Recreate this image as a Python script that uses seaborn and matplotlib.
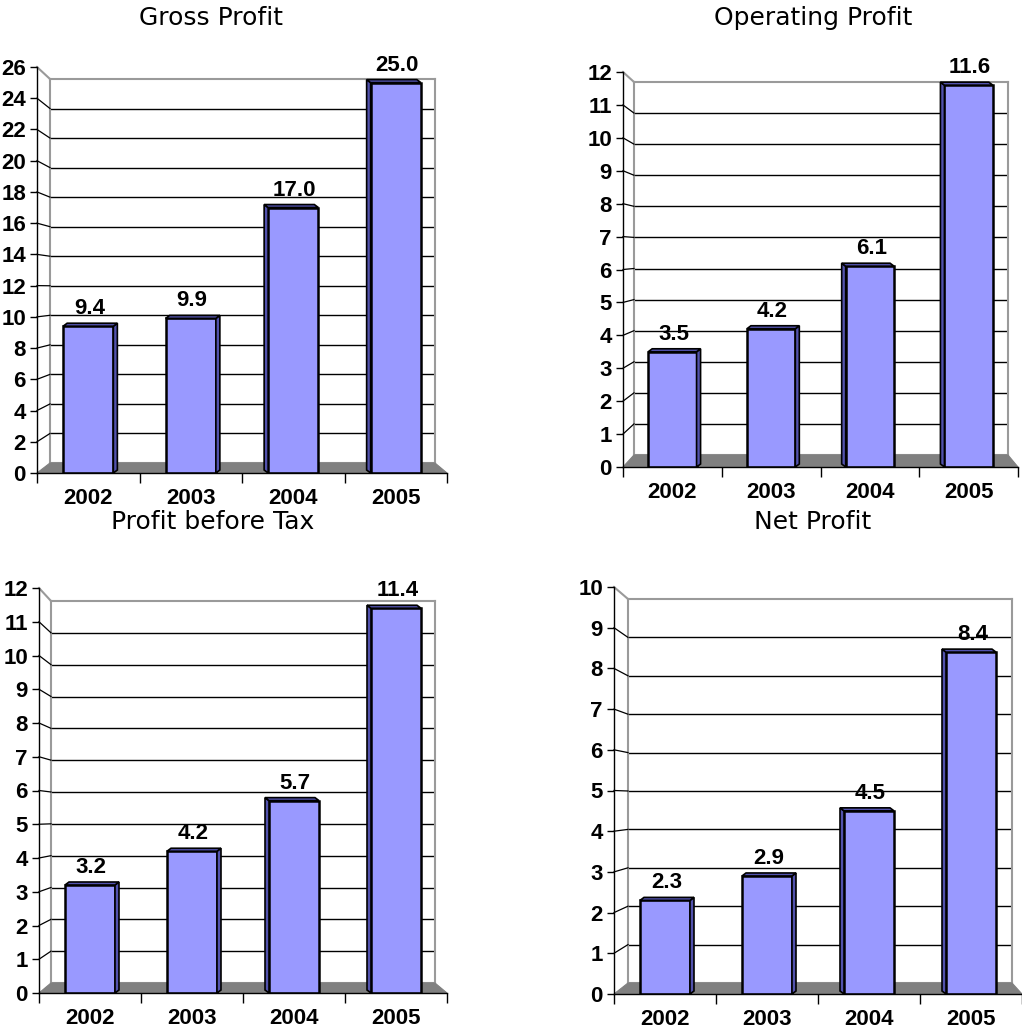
import matplotlib
matplotlib.use("Agg")
import matplotlib.pyplot as plt
from matplotlib.lines import Line2D
from matplotlib.patches import Polygon
from matplotlib.transforms import IdentityTransform
import seaborn as sns

## DATOS

years = ["2002", "2003", "2004", "2005"]
gross_profit = [9.4, 9.9, 17.0, 25.0]
operating_profit = [3.5, 4.2, 6.1, 11.6]
profit_before_tax = [3.2, 4.2, 5.7, 11.4]
net_profit = [2.3, 2.9, 4.5, 8.4]

titles = ["Gross Profit", "Operating Profit", "Profit before Tax", "Net Profit"]

W, H = 1022, 1035
BAR = "#9999FF"
SIDE = "#5252ad"
GREY = "#808080"
WALL_EDGE = "#9a9a9a"
FS = 16


def fig_xy(px, py):
    return px / W, 1 - py / H


def panel(fig, values, title, ymax, step, axis_box, wall_box, title_xy):
    '''
    Dibuja un panel tipo "Excel 3D": pared del fondo, suelo gris y barras.
    axis_box = (x0, x1, ytop, ybot) en píxeles, wall_box igual para la pared.
    '''
    x0, x1, yt, yb = axis_box
    wx0, wx1, wyt, wyb = wall_box
    ticks = list(range(0, ymax + 1, step))

    # pared del fondo con las líneas de rejilla
    wall = fig.add_axes([wx0 / W, 1 - wyb / H, (wx1 - wx0) / W, (wyb - wyt) / H])
    wall.set_zorder(0)
    wall.set_xlim(0, 1)
    wall.set_ylim(0, ymax)
    wall.set_xticks([])
    wall.set_yticks([])
    for s in wall.spines.values():
        s.set_color(WALL_EDGE)
        s.set_linewidth(1.5)
    for v in ticks[1:-1]:
        wall.axhline(v, color="black", lw=1)

    # suelo gris
    floor = Polygon([fig_xy(x0, yb), fig_xy(x1, yb), fig_xy(wx1, wyb), fig_xy(wx0, wyb)],
                    closed=True, facecolor=GREY, edgecolor=GREY, lw=0.8,
                    transform=fig.transFigure, zorder=0.5)
    fig.add_artist(floor)

    # pared lateral izquierda y conectores de ticks
    fig.add_artist(Line2D(*zip(fig_xy(x0, yt), fig_xy(wx0, wyt)), color=WALL_EDGE, lw=1.5,
                          transform=fig.transFigure, zorder=0.6))
    for v in ticks[1:-1]:
        ay = yb - v / ymax * (yb - yt)
        wy = wyb - v / ymax * (wyb - wyt)
        fig.add_artist(Line2D(*zip(fig_xy(x0, ay), fig_xy(wx0, wy)), color="black", lw=0.9,
                              transform=fig.transFigure, zorder=0.6))

    # ejes principales con las barras
    ax = fig.add_axes([x0 / W, 1 - yb / H, (x1 - x0) / W, (yb - yt) / H])
    ax.set_zorder(1)
    ax.patch.set_visible(False)
    sns.barplot(x=years, y=values, ax=ax, color=BAR, edgecolor="black",
                linewidth=1.8, width=0.49, saturation=1)
    ax.set_xlim(-0.5, 3.5)
    ax.set_ylim(0, ymax)
    ax.set_yticks(ticks)
    ax.set_yticklabels([str(t) for t in ticks], fontweight="bold", fontsize=FS)
    ax.set_xticks(range(len(years)))
    ax.set_xticklabels(years, fontweight="bold", fontsize=FS)
    ax.set_xticks([i - 0.5 for i in range(len(years) + 1)], minor=True)
    ax.tick_params(axis="x", which="major", length=0, pad=11)
    ax.tick_params(axis="x", which="minor", length=7, width=1, direction="out")
    ax.tick_params(axis="y", length=5, width=1, direction="out", pad=3)
    ax.set_xlabel("")
    ax.set_ylabel("")
    for side in ["top", "right"]:
        ax.spines[side].set_visible(False)
    for side in ["left", "bottom"]:
        ax.spines[side].set_color("black")
        ax.spines[side].set_linewidth(1)

    # caras laterales y superiores (pseudo 3D)
    dx, dy = 4, 3
    for i, p in enumerate(ax.patches):
        bx0, by0 = ax.transData.transform((p.get_x(), 0))
        bx1, by1 = ax.transData.transform((p.get_x() + p.get_width(), p.get_height()))
        if i < 2:
            side = [(bx1, by0), (bx1, by1), (bx1 + dx, by1 + dy), (bx1 + dx, by0 + dy)]
            top = [(bx0, by1), (bx1, by1), (bx1 + dx, by1 + dy), (bx0 + dx, by1 + dy)]
        else:
            side = [(bx0, by0), (bx0, by1), (bx0 - dx, by1 + dy), (bx0 - dx, by0 + dy)]
            top = [(bx0, by1), (bx1, by1), (bx1 - dx, by1 + dy), (bx0 - dx, by1 + dy)]
        for pts in (side, top):
            ax.add_patch(Polygon(pts, closed=True, facecolor=SIDE, edgecolor="black",
                                 lw=1.2, transform=IdentityTransform(), zorder=1.5))
        ax.annotate(f"{values[i]:.1f}", (p.get_x() + p.get_width() / 2, p.get_height()),
                    xytext=(1, 5), textcoords="offset points", ha="center", va="bottom",
                    fontweight="bold", fontsize=FS, zorder=3)

    fig.text(*fig_xy(*title_xy), title, ha="center", va="center",
             fontsize=18, family=["DejaVu Sans"])


plt.rcParams["font.family"] = ["Liberation Sans", "DejaVu Sans"]
fig = plt.figure(figsize=(W / 100, H / 100), dpi=100)

panel(fig, gross_profit, titles[0], 26, 2,
      (37, 447, 67, 473), (50, 435, 79, 463), (211, 18))
panel(fig, operating_profit, titles[1], 12, 1,
      (623, 1018, 72, 467), (634, 1008, 82, 455), (813, 18))
panel(fig, profit_before_tax, titles[2], 12, 1,
      (39, 447, 588, 993), (51, 435, 601, 983), (213, 522))
panel(fig, net_profit, titles[3], 10, 1,
      (614, 1022, 587, 994), (628, 1012, 599, 983), (813, 522))

fig.savefig("out.png", dpi=100, facecolor="white")
